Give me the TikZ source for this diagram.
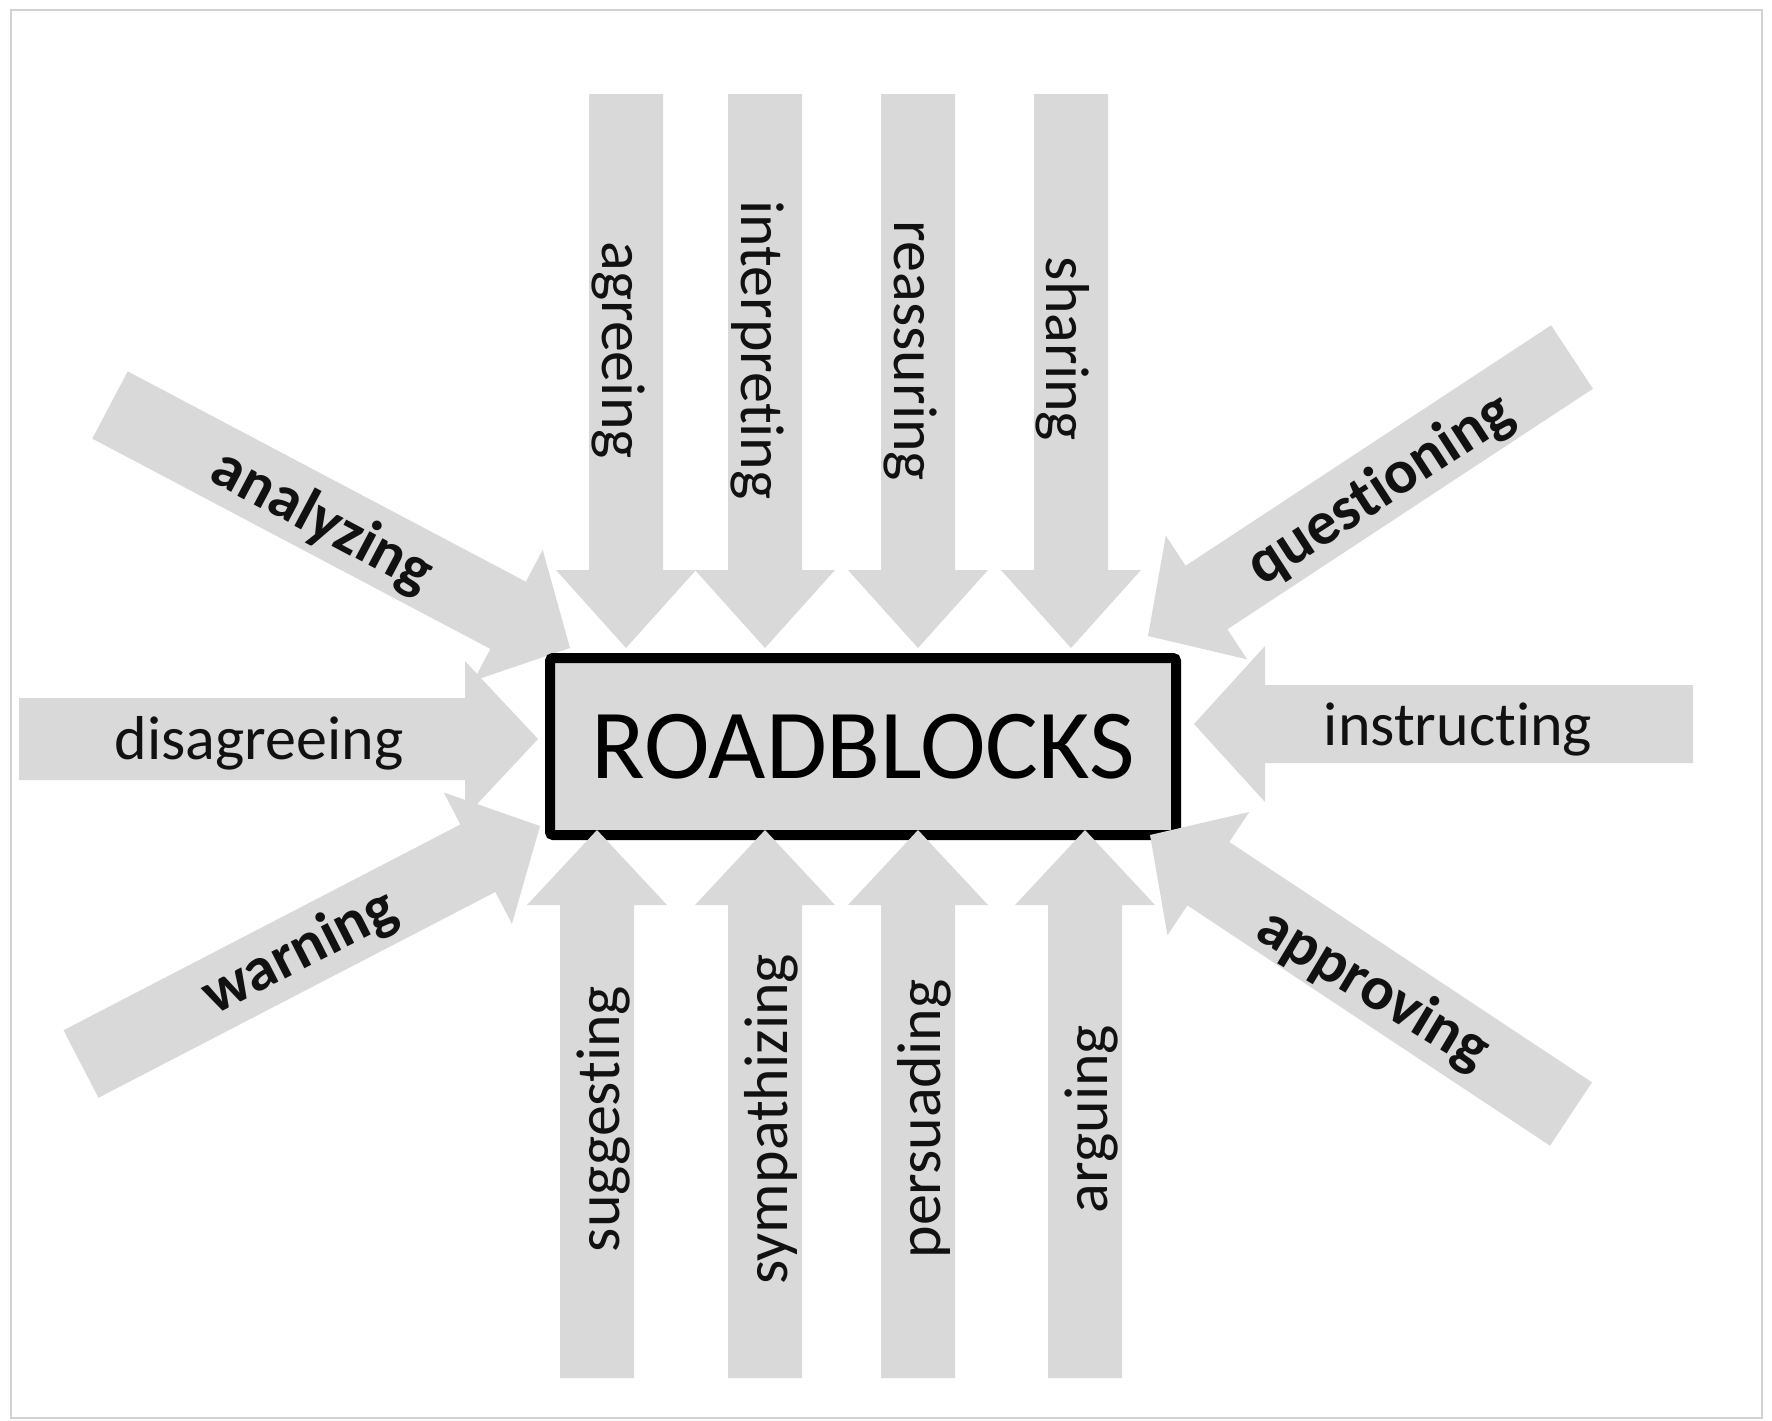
\documentclass[tikz,border=0pt]{standalone}
\usepackage{fontspec}
\setmainfont{Carlito}[Ligatures={NoCommon,NoContextual}]
\usetikzlibrary{calc}
\definecolor{arrowgray}{HTML}{D9D9D9}
\definecolor{boxgray}{HTML}{D9D9D9}
\definecolor{framegray}{HTML}{D2D2D2}
\definecolor{labelink}{HTML}{111111}
% block arrow: tail, tip, shaft half-width, head half-width, head length
\newcommand{\blockarrow}[5]{%
  \coordinate (hb) at ($(#2)!#5!(#1)$);
  \fill[arrowgray] ($(#1)!#3!90:(#2)$) -- ($(hb)!#3!-90:(#1)$) -- ($(hb)!#4!-90:(#1)$) -- (#2)
    -- ($(hb)!#4!90:(#1)$) -- ($(hb)!#3!90:(#1)$) -- ($(#1)!#3!-90:(#2)$) -- cycle;}
\begin{document}
\begin{tikzpicture}[x=1pt,y=-1pt,
  lbl/.style={font=\fontsize{62}{70}\selectfont, text=labelink, inner sep=0pt},
  lblb/.style={font=\fontsize{62}{70}\selectfont\bfseries, text=labelink, inner sep=0pt},
  centerbox/.style={draw=black, line width=10pt, fill=boxgray, minimum width=626pt,
    minimum height=177pt, inner sep=0pt, rounded corners=3pt, font=\fontsize{99}{110}\selectfont}]
\fill[white] (0,0) rectangle (1772,1421);
\useasboundingbox (0,0) rectangle (1772,1421);
\draw[framegray, line width=2pt] (11,10) rectangle (1762,1418);

% coordinates: tails (t..) and tips (h..)
\coordinate (tAgr) at (626,94);   \coordinate (hAgr) at (626,648);
\coordinate (tInt) at (765,94);   \coordinate (hInt) at (765,648);
\coordinate (tRea) at (918,94);   \coordinate (hRea) at (918,648);
\coordinate (tSha) at (1071,94);  \coordinate (hSha) at (1071,648);
\coordinate (tSug) at (597,1378); \coordinate (hSug) at (597,830);
\coordinate (tSym) at (765,1378); \coordinate (hSym) at (765,830);
\coordinate (tPer) at (918,1378); \coordinate (hPer) at (918,830);
\coordinate (tArg) at (1085,1378);\coordinate (hArg) at (1085,830);
\coordinate (tDis) at (19,739);   \coordinate (hDis) at (538,739);
\coordinate (tIns) at (1693,724); \coordinate (hIns) at (1194,724);
\coordinate (tAna) at (110,405);  \coordinate (hAna) at (570,648);
\coordinate (tQue) at (1572,357); \coordinate (hQue) at (1148,636);
\coordinate (tWar) at (81,1064);  \coordinate (hWar) at (540,826);
\coordinate (tApp) at (1571,1114);\coordinate (hApp) at (1150,835);

% arrows behind the box
\blockarrow{tAgr}{hAgr}{37pt}{70pt}{78pt}
\blockarrow{tInt}{hInt}{37pt}{70pt}{78pt}
\blockarrow{tRea}{hRea}{37pt}{70pt}{78pt}
\blockarrow{tSha}{hSha}{37pt}{70pt}{78pt}
\blockarrow{tDis}{hDis}{41pt}{78pt}{73pt}
\blockarrow{tIns}{hIns}{39pt}{78pt}{71pt}
\blockarrow{tAna}{hAna}{38pt}{74pt}{70pt}
\blockarrow{tQue}{hQue}{38pt}{74pt}{70pt}
\blockarrow{tWar}{hWar}{38pt}{74pt}{70pt}

% central box
\node[centerbox] (box) at (863,746.5) {ROADBLOCKS};

% arrows drawn over the box edge
\blockarrow{tSug}{hSug}{37pt}{70pt}{75pt}
\blockarrow{tSym}{hSym}{37pt}{70pt}{75pt}
\blockarrow{tPer}{hPer}{37pt}{70pt}{75pt}
\blockarrow{tArg}{hArg}{37pt}{70pt}{75pt}
\blockarrow{tApp}{hApp}{38pt}{74pt}{70pt}

% labels
\node[lbl, rotate=-90] (lAgr) at (618,350) {agreeing};
\node[lbl, rotate=-90] (lInt) at (757,350) {interpreting};
\node[lbl, rotate=-90] (lRea) at (910,351) {reassuring};
\node[lbl, rotate=-90] (lSha) at (1063,349) {sharing};
\node[lbl, rotate=90] (lSug) at (603,1119) {suggesting};
\node[lbl, rotate=90] (lSym) at (771,1119) {sympathizing};
\node[lbl, rotate=90] (lPer) at (924,1119) {persuading};
\node[lbl, rotate=90] (lArg) at (1091,1119) {arguing};
\node[lbl] (lDis) at (259,743) {disagreeing};
\node[lbl] (lIns) at (1458,729) {instructing};
\node[lblb, rotate=-28] (lAna) at (322,522) {analyzing};
\node[lblb, rotate=33] (lQue) at (1381,490) {questioning};
\node[lblb, rotate=27] (lWar) at (300,953) {warning};
\node[lblb, rotate=-31] (lApp) at (1373,990) {approving};
\end{tikzpicture}
\end{document}
